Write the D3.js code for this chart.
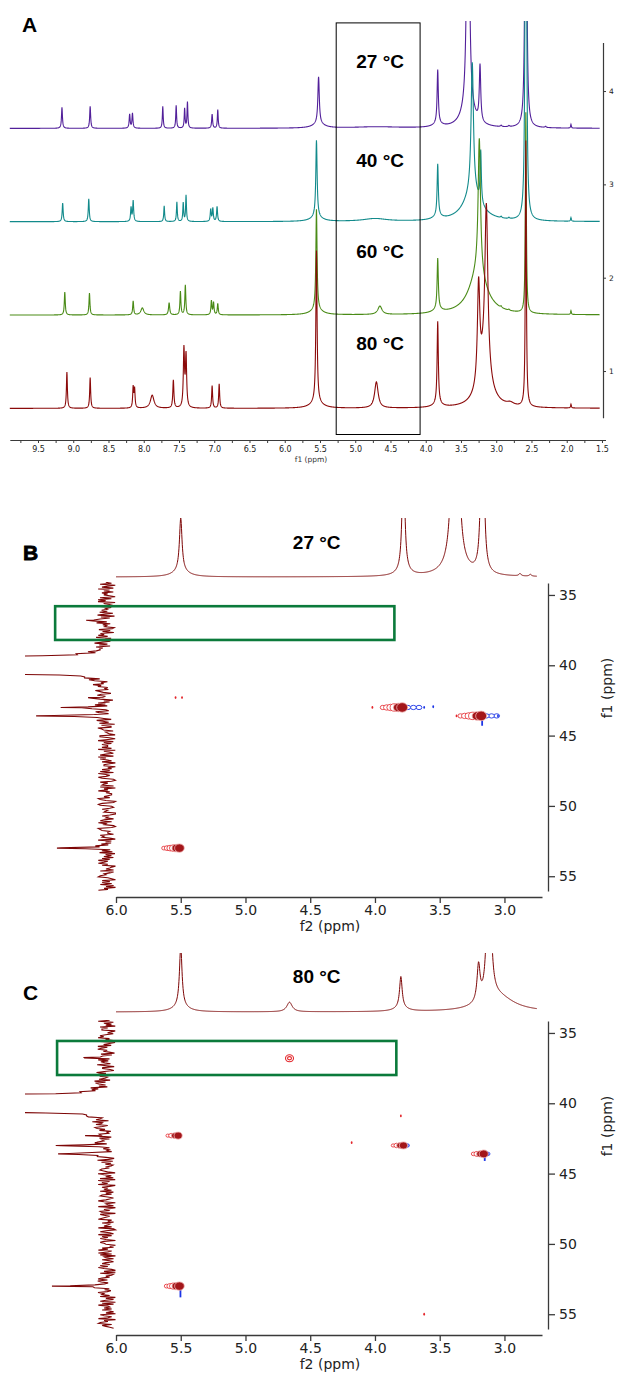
<!DOCTYPE html>
<html>
<head>
<meta charset="utf-8">
<script src="https://cdn.jsdelivr.net/npm/d3@7"></script>
<style>
body{margin:0;background:#fff;}
svg{display:block;font-family:"DejaVu Sans",Verdana,sans-serif;}
.big{font-family:"Liberation Sans",Arial,sans-serif;font-weight:bold;fill:#000;}
.ax path,.ax line{stroke:#3a3a3a;}
.ax text{fill:#222;font-family:"DejaVu Sans",Verdana,sans-serif;}
</style>
</head>
<body>
<svg id="chart" width="620" height="1375"></svg>
<script>
// ---- panel A : 1H spectra at four temperatures, peaks as [ppm, height, half width]
var tempsA = ["27 °C","40 °C","60 °C","80 °C"];
var offsetsA = [3.6, 2.6, 1.6, 0.6];
var colorsA = ["#52209a","#128a8b","#4a8b17","#8b0a0a"];
var labelV = [4.25, 3.19, 2.21, 1.23];

var peaks27 = [[9.16,0.225,0.008],[8.76,0.235,0.008],[8.20,0.15,0.008],[8.16,0.16,0.008],[7.73,0.235,0.007],
  [7.54,0.245,0.007],[7.42,0.21,0.007],[7.38,0.28,0.007],[7.03,0.15,0.008],[6.95,0.2,0.007],
  [5.52,0.5,0.012],[5.52,0.05,0.09],[4.7,0.015,0.4],[3.83,0.57,0.01],[3.83,0.04,0.07],
  [3.40,5.0,0.015],[3.40,0.2,0.1],[3.23,0.6,0.012],[2.93,0.015,0.01],[2.82,0.012,0.01],
  [2.58,9.0,0.008],[2.3,0.012,0.01],[1.94,0.04,0.006]];
var peaks40 = [[9.15,0.2,0.008],[8.78,0.245,0.008],[8.18,0.15,0.008],[8.15,0.22,0.008],[7.71,0.17,0.007],
  [7.53,0.21,0.007],[7.44,0.2,0.007],[7.40,0.28,0.007],[7.05,0.13,0.008],[7.02,0.14,0.008],[6.96,0.16,0.008],
  [5.55,0.82,0.011],[5.55,0.05,0.09],[4.72,0.03,0.2],[3.83,0.55,0.01],[3.83,0.04,0.07],
  [3.34,1.4,0.02],[3.34,0.3,0.15],[3.22,0.55,0.01],[2.93,0.015,0.01],[2.82,0.012,0.01],
  [2.58,9.0,0.008],[1.94,0.04,0.006]];
var peaks60 = [[9.12,0.245,0.008],[8.77,0.235,0.008],[8.15,0.15,0.008],[8.02,0.075,0.025],[7.64,0.13,0.01],
  [7.48,0.25,0.008],[7.41,0.32,0.008],[7.04,0.15,0.008],[7.01,0.13,0.008],[6.95,0.12,0.008],
  [5.55,1.07,0.01],[5.55,0.06,0.09],[4.65,0.09,0.035],[3.83,0.54,0.01],[3.83,0.04,0.07],
  [3.24,1.45,0.02],[3.26,0.45,0.15],[2.93,0.015,0.01],[2.82,0.012,0.01],[2.58,2.15,0.008],[1.94,0.04,0.006]];
var peaks80 = [[9.09,0.39,0.008],[8.76,0.33,0.008],[8.15,0.22,0.008],[8.13,0.2,0.008],[7.88,0.14,0.03],
  [7.58,0.3,0.009],[7.43,0.62,0.01],[7.40,0.55,0.01],[7.03,0.24,0.008],[6.93,0.26,0.008],
  [5.55,1.62,0.01],[5.55,0.07,0.09],[4.7,0.28,0.03],[3.83,0.88,0.01],[3.83,0.04,0.07],
  [3.25,1.05,0.02],[3.14,1.75,0.025],[3.17,0.45,0.1],[2.8,0.03,0.06],[2.58,2.85,0.008],[1.94,0.04,0.006]];
var spectraA = [peaks27, peaks40, peaks60, peaks80];
var ticksA = d3.range(39).map(function(i){ return +(9.75 - i*0.25).toFixed(2); }).filter(function(v){ return v >= 1.5; });
var boxA = {f1:[5.27, 4.08], v:[4.73, 0.32]};

// ---- panels B and C : HSQC, projections
var projTopB = [[5.5,0.88,0.012],[5.5,0.1,0.07],[3.78,2.0,0.012],[3.78,0.05,0.07],[3.38,10,0.015],[3.38,0.08,0.12],
  [3.17,5,0.01],[2.88,0.04,0.01],[2.80,0.03,0.01]];
var projTopC = [[5.5,1.0,0.012],[5.5,0.09,0.07],[4.66,0.16,0.025],[3.80,0.52,0.012],[3.80,0.06,0.06],
  [3.2,0.6,0.014],[3.12,3.3,0.015],[3.05,0.25,0.15]];
var dmso13C = [[39.5,30,0.02],[39.67,30,0.02],[39.83,30,0.02],[40.0,30,0.02],[40.17,30,0.02],[40.33,30,0.02],[40.5,30,0.02]];
var projLeftB = dmso13C.concat([[36.8,0.2,0.04],[42.3,0.17,0.04],[43.0,0.45,0.04],[43.6,0.7,0.04],[53.0,0.5,0.04]]);
var projLeftC = dmso13C.concat([[36.75,0.22,0.04],[42.3,0.2,0.04],[43.0,0.5,0.04],[43.6,0.48,0.04],[53.0,0.55,0.04]]);
var noiseB = ["5280471936","1746308295","9063182547","4815907263","7392645018","2607583914","8159260734","3471829605",
  "6024715398","9538062147","1860439572","4297516830","7605284913","0832971564","5419638072","2976154308",
  "8305916274","4729063158","1958427036","6042738195","3597102846","7180649352","2463985017","9821374560",
  "0374516829","5610298734","4186730925","2739485061","8052617394","6947023518","1365894207","3728150649"].join('');
var noiseC = ["3916250847","7024158693","5180362947","9463071528","1837529406","6205948173","4719386250","8351602974",
  "0692847315","2548179036","7136094582","5984713260","3072658914","9415230867","6840391725","1253786409",
  "6251809374","9037462815","2784135960","5419026387","0863579241","7346291058","3192748506","8650317492",
  "4928065173","1573849620","6081253794","9734610825","2496738051","5807194362","7315086249","0648927531"].join('');
var ticksF2 = [6.0,5.5,5.0,4.5,4.0,3.5,3.0];
var minorF2 = [5.75,5.25,4.75,4.25,3.75,3.25,2.75];
var ticksF1 = [35,40,45,50,55];
var minorF1 = [37.5,42.5,47.5,52.5];
// cross peaks: [f2, f1, tail length f2, half height f1, rings, blue lobe f2, blue tail f1]
var crossB = [[5.51,53.0,0.12,0.3,6,0,0],[3.79,43.0,0.15,0.34,6,0.13,0],[3.18,43.6,0.16,0.34,6,0.12,0.7]];
var dotsB = [[5.54,42.3,"r"],[5.49,42.3,"r"],[4.02,43.0,"r"],[3.62,43.0,"b"],[3.55,42.95,"b"],[3.37,43.6,"r"],[3.05,43.6,"b"]];
var crossC = [[5.51,53.0,0.1,0.3,5,0,0.8],[5.52,42.3,0.08,0.25,4,0,0],[3.78,43.0,0.08,0.25,4,0.03,0],[3.16,43.6,0.08,0.28,4,0.03,0.5]];
var ringsC = [[4.66,36.8]];
var dotsC = [[3.62,55.0,"r"],[3.8,40.9,"r"],[4.18,42.8,"r"]];
var rectB = {f2:[6.47,3.85], f1:[35.8,38.2]};
var rectC = {f2:[6.455,3.835], f1:[35.57,37.99]};

var RED = "#e3262b", DARK = "#a3161a", BLUE = "#1c35e6", PROJ = "#7d0606", GREEN = "#0b7a3b";

var svg = d3.select('#chart');
var defs = svg.append('defs');
function clip(id, x, y, w, h){
  defs.append('clipPath').attr('id', id).append('rect')
    .attr('x', x).attr('y', y).attr('width', w).attr('height', h);
  return 'url(#' + id + ')';
}
function lorentz(peaks, p){
  var s = 0;
  peaks.forEach(function(k){ var d = (p - k[0]) / k[2]; s += k[1] / (1 + d*d); });
  return s;
}
function grid(a, b, step, peaks){
  var pts = [];
  for (var p = a; p >= b; p -= step) pts.push(p);
  peaks.forEach(function(k){ if (k[0] <= a && k[0] >= b) pts.push(k[0]); });
  return pts.sort(function(m, n){ return n - m; });
}

// ================= Panel A =================
var xA = d3.scaleLinear().domain([9.9, 1.45]).range([9.8, 605.5]);
var yA = d3.scaleLinear().domain([0.5, 4.52]).range([417.7, 42.5]);
var gA = svg.append('g');
var clipA = clip('cA', 9, 21, 592, 420);

spectraA.forEach(function(pk, i){
  var pts = grid(9.9, 1.53, 0.0025, pk).map(function(p){ return [p, lorentz(pk, p)]; });
  gA.append('path')
    .attr('clip-path', clipA)
    .attr('d', d3.line().x(function(d){ return xA(d[0]); }).y(function(d){ return yA(offsetsA[i] + d[1]); })(pts))
    .attr('fill', 'none').attr('stroke', colorsA[i]).attr('stroke-width', 1.1);
});

gA.append('rect')
  .attr('x', xA(boxA.f1[0])).attr('y', yA(boxA.v[0]))
  .attr('width', xA(boxA.f1[1]) - xA(boxA.f1[0])).attr('height', yA(boxA.v[1]) - yA(boxA.v[0]))
  .attr('fill', 'none').attr('stroke', '#000').attr('stroke-width', 1);

tempsA.forEach(function(t, i){
  gA.append('text').attr('class', 'big')
    .attr('x', xA((boxA.f1[0] + boxA.f1[1]) / 2) + 2).attr('y', yA(labelV[i]))
    .attr('text-anchor', 'middle').style('font-size', '19px').text(t);
});

gA.append('g').attr('class', 'ax').attr('transform', 'translate(0,440)')
  .call(d3.axisBottom(xA).tickValues(ticksA).tickSize(3).tickSizeOuter(0).tickPadding(3)
    .tickFormat(function(d){ return Math.abs(d*2 - Math.round(d*2)) < 1e-6 ? d.toFixed(1) : ''; }))
  .call(function(g){ g.selectAll('text').style('font-size', '8px').attr('fill', '#333'); g.select('.domain').attr('stroke-width', 1); });
gA.append('text').attr('x', 311).attr('y', 462).attr('text-anchor', 'middle')
  .style('font-size', '7.5px').attr('fill', '#333').text('f1 (ppm)');

gA.append('g').attr('class', 'ax').attr('transform', 'translate(603,0)')
  .call(d3.axisRight(yA).tickValues([1,2,3,4]).tickSize(3).tickSizeOuter(0).tickPadding(3).tickFormat(d3.format('d')))
  .call(function(g){ g.selectAll('text').style('font-size', '7.5px').attr('fill', '#333'); g.select('.domain').attr('stroke-width', 1.2); });

svg.append('text').attr('class', 'big').attr('x', 22).attr('y', 32).style('font-size', '21px').text('A');

// ================= Panels B and C =================
function drawCross(g, xs, ys, c){
  var cx = xs(c[0]), cy = ys(c[1]);
  var ry0 = Math.abs(ys(c[1] + c[3]) - cy);
  var len = xs(c[0]) - xs(c[0] + c[2]);
  var n = c[4];
  if (c[5] > 0){
    var bl = xs(c[0] - c[5]) - cx;
    for (var j = 3; j >= 1; j--){
      g.append('ellipse').attr('cx', cx + bl*j/3).attr('cy', cy)
        .attr('rx', ry0*0.6).attr('ry', ry0*0.45)
        .attr('fill', '#fff').attr('stroke', BLUE).attr('stroke-width', 0.9);
    }
  }
  if (c[6] > 0){
    g.append('line').attr('x1', cx + 1).attr('x2', cx + 1).attr('y1', cy).attr('y2', ys(c[1] + c[6]))
      .attr('stroke', BLUE).attr('stroke-width', 1.8);
  }
  for (var k = n - 1; k >= 0; k--){
    var t = k / (n - 1), ry = ry0 * (1 - 0.55*t), inner = t < 0.35;
    g.append('ellipse').attr('cx', cx - len*t).attr('cy', cy)
      .attr('rx', ry*1.15).attr('ry', ry)
      .attr('fill', inner ? DARK : '#fff')
      .attr('stroke', inner ? '#f1b4b4' : RED).attr('stroke-width', 0.8);
  }
}

function panel2D(o){
  var xs = d3.scaleLinear().domain([6.0, 2.71]).range([116, 542]);
  var ys = d3.scaleLinear().domain([34.15, 56.05]).range([o.top, o.top + 308]);
  var yTop = d3.scaleLinear().domain([0, 1]).range([o.base, o.base - 60]);
  var xLeft = d3.scaleLinear().domain([0, 1]).range([107, 7]);
  var g = svg.append('g');

  // top projection
  var tp = grid(6.0, 2.75, 0.002, o.projTop).map(function(p){ return [p, lorentz(o.projTop, p)]; });
  g.append('path').attr('clip-path', clip(o.id + 't', 110, o.base - 59, 440, 70))
    .attr('d', d3.line().x(function(d){ return xs(d[0]); }).y(function(d){ return yTop(d[1]); })(tp))
    .attr('fill', 'none').attr('stroke', PROJ).attr('stroke-width', 1);

  // left projection
  var step = (56.0 - 34.1) / (o.noise.length - 1);
  var lp = [];
  for (var i = 0; i < o.noise.length; i++){
    var f = 34.1 + i*step;
    lp.push([f, (+o.noise[i] - 4.5) * 0.019 + lorentz(o.projLeft, f)]);
  }
  o.projLeft.forEach(function(k){ if (k[1] < 5) lp.push([k[0], lorentz(o.projLeft, k[0])]); });
  lp.sort(function(a, b){ return a[0] - b[0]; });
  g.append('path').attr('clip-path', clip(o.id + 'l', 25, o.top - 1, 95, 310))
    .attr('d', d3.line().x(function(d){ return xLeft(d[1]); }).y(function(d){ return ys(d[0]); })(lp))
    .attr('fill', 'none').attr('stroke', PROJ).attr('stroke-width', 1.1);

  // cross peaks
  var gc = g.append('g');
  o.cross.forEach(function(c){ drawCross(gc, xs, ys, c); });
  o.rings.forEach(function(r){
    [[4, 3.5], [2, 1.6]].forEach(function(s){
      gc.append('ellipse').attr('cx', xs(r[0])).attr('cy', ys(r[1])).attr('rx', s[0]).attr('ry', s[1])
        .attr('fill', 'none').attr('stroke', RED).attr('stroke-width', 1.1);
    });
  });
  o.dots.forEach(function(d){
    gc.append('ellipse').attr('cx', xs(d[0])).attr('cy', ys(d[1])).attr('rx', 0.9).attr('ry', 1.4)
      .attr('fill', d[2] === 'r' ? RED : BLUE);
  });

  // green box
  g.append('rect')
    .attr('x', xs(o.rect.f2[0])).attr('y', ys(o.rect.f1[0]))
    .attr('width', xs(o.rect.f2[1]) - xs(o.rect.f2[0])).attr('height', ys(o.rect.f1[1]) - ys(o.rect.f1[0]))
    .attr('fill', 'none').attr('stroke', GREEN).attr('stroke-width', 2.6);

  // axes
  var axY = o.top + 314;
  g.append('g').attr('class', 'ax').attr('transform', 'translate(0,' + axY + ')')
    .call(d3.axisBottom(xs).tickValues(minorF2).tickSize(4).tickSizeOuter(0).tickFormat(''))
    .call(d3.axisBottom(xs).tickValues(ticksF2).tickSize(6).tickSizeOuter(0).tickPadding(2).tickFormat(d3.format('.1f')))
    .call(function(s){ s.selectAll('text').style('font-size', '14px'); s.selectAll('path,line').attr('stroke-width', 1.3); });
  g.append('text').attr('x', 330).attr('y', axY + 34).attr('text-anchor', 'middle')
    .style('font-size', '14px').attr('fill', '#222').text('f2 (ppm)');

  g.append('g').attr('class', 'ax').attr('transform', 'translate(548,0)')
    .call(d3.axisRight(ys).tickValues(minorF1).tickSize(4).tickSizeOuter(0).tickFormat(''))
    .call(d3.axisRight(ys).tickValues(ticksF1).tickSize(7).tickSizeOuter(0).tickPadding(4).tickFormat(d3.format('d')))
    .call(function(s){ s.selectAll('text').style('font-size', '14px'); s.selectAll('path,line').attr('stroke-width', 1.3); });
  g.append('text').attr('transform', 'translate(612,' + (o.top + 105) + ') rotate(-90)')
    .attr('text-anchor', 'middle').style('font-size', '14px').attr('fill', '#222').text('f1 (ppm)');

  g.append('text').attr('class', 'big').attr('x', xs(4.45)).attr('y', o.labelY)
    .attr('text-anchor', 'middle').style('font-size', '19px').text(o.temp);
  g.append('text').attr('class', 'big').attr('x', 23).attr('y', o.letterY)
    .style('font-size', '21px').style('stroke', '#000').style('stroke-width', o.id === 'B' ? 0.8 : 0).text(o.id);
}

panel2D({id:'B', top:583, base:577, projTop:projTopB, projLeft:projLeftB, noise:noiseB,
  cross:crossB, rings:[], dots:dotsB, rect:rectB, temp:'27 °C', labelY:549, letterY:560});
panel2D({id:'C', top:1021, base:1012, projTop:projTopC, projLeft:projLeftC, noise:noiseC,
  cross:crossC, rings:ringsC, dots:dotsC, rect:rectC, temp:'80 °C', labelY:983, letterY:1000});
</script>
</body>
</html>
